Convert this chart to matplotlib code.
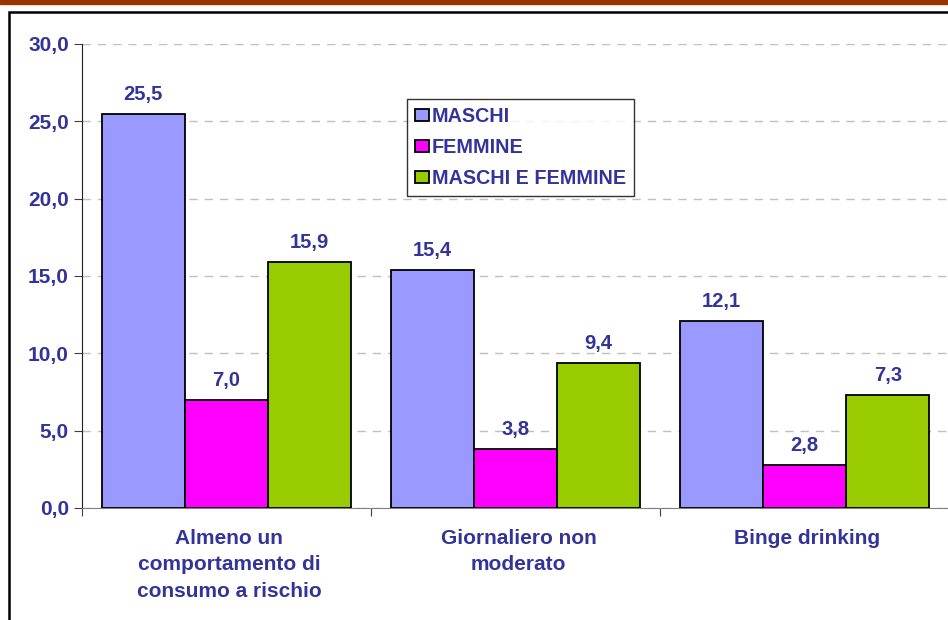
import numpy as np
import matplotlib.pyplot as plt
from matplotlib.patches import Rectangle

plt.rcParams['font.family'] = ['Liberation Sans', 'DejaVu Sans']
plt.rcParams['font.weight'] = 'bold'

categories = ["Almeno un\ncomportamento di\nconsumo a rischio",
              "Giornaliero non\nmoderato",
              "Binge drinking"]
series = ["MASCHI", "FEMMINE", "MASCHI E FEMMINE"]
maschi = [25.5, 15.4, 12.1]
femmine = [7.0, 3.8, 2.8]
totale = [15.9, 9.4, 7.3]
yticks = [0, 5, 10, 15, 20, 25, 30]
ytick_labels = ["0,0", "5,0", "10,0", "15,0", "20,0", "25,0", "30,0"]

colors = ["#9999FF", "#FF00FF", "#99CC00"]
txt = "#333399"

fig = plt.figure(figsize=(9.48, 6.2), dpi=100)
W, H = 948, 620

# dark band on top and chart frame
fig.patches.append(Rectangle((0, 1 - 4 / H), 1, 4 / H, transform=fig.transFigure,
                             color="#993300", zorder=0))
fig.patches.append(Rectangle((9 / W, -0.05), 1.1, 1 - 12 / H + 0.05,
                             transform=fig.transFigure, fill=False,
                             edgecolor="black", linewidth=1.8, zorder=1))

ax = fig.add_axes([82 / W, (H - 508) / H, 867 / W, 464 / H])

x = np.arange(len(categories))
w = 0.288
for i, (vals, name) in enumerate(zip([maschi, femmine, totale], series)):
    bars = ax.bar(x + (i - 1) * w, vals, w, color=colors[i], edgecolor="black",
                  linewidth=1.3, label=name, zorder=3)
    for b, v in zip(bars, vals):
        ax.annotate(f"{v:.1f}".replace(".", ","),
                    (b.get_x() + b.get_width() / 2, v),
                    xytext=(0, 10), textcoords="offset points",
                    ha="center", va="baseline", fontsize=14.5,
                    color=txt, fontweight="bold")

ax.set_xlim(-0.5, 2.5)
ax.set_ylim(0, 30)
ax.set_yticks(yticks)
ax.set_yticklabels(ytick_labels)
ax.set_xticks([-0.5, 0.5, 1.5, 2.5])
ax.set_xticklabels([])
ax.tick_params(axis="y", direction="out", length=6, labelsize=15,
               labelcolor=txt, color="#404040")
ax.tick_params(axis="x", direction="out", length=6, color="#404040")
ax.yaxis.grid(True, linestyle=(0, (6, 5)), color="#C0C0C0", linewidth=1)
ax.set_axisbelow(True)
for s in ["top", "right"]:
    ax.spines[s].set_visible(False)
ax.spines["left"].set_color("#202020")
ax.spines["bottom"].set_color("#808080")

for xi, lab in zip(x, categories):
    ax.text(xi + 0.01, -1.35, lab, ha="center", va="top", fontsize=15, color=txt,
            fontweight="bold", linespacing=1.5,
            transform=ax.transData)

leg = ax.legend(loc="upper left", bbox_to_anchor=(407 / W, 1 - 99 / H),
                bbox_transform=fig.transFigure, borderaxespad=0,
                fontsize=14.2, frameon=True, fancybox=False,
                handlelength=0.7, handleheight=0.55, handletextpad=0.15,
                labelspacing=0.62, borderpad=0.4)
leg.get_frame().set_edgecolor("black")
leg.get_frame().set_linewidth(1.0)
for t in leg.get_texts():
    t.set_color(txt)

fig.savefig("out.png", dpi=100)
